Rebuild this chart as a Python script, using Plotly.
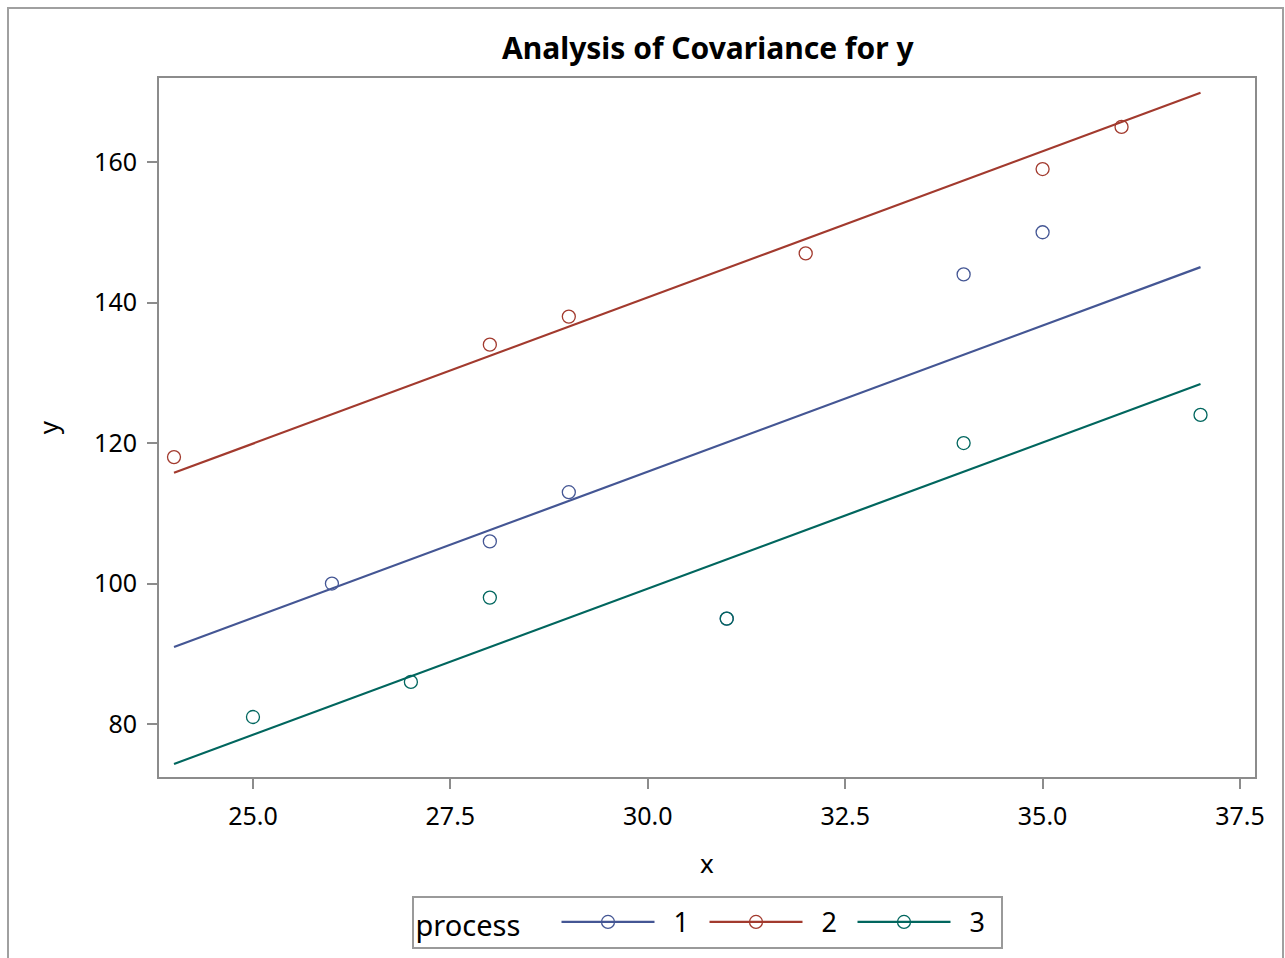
import plotly.graph_objects as go

# Observed data by process
x_p1 = [26, 28, 29, 31, 34, 35]
y_p1 = [100, 106, 113, 95, 144, 150]
x_p2 = [24, 28, 29, 32, 35, 36]
y_p2 = [118, 134, 138, 147, 159, 165]
x_p3 = [25, 27, 28, 31, 34, 37]
y_p3 = [81, 86, 98, 95, 120, 124]

# Fitted ANCOVA lines (common slope), evaluated at the ends of the x range
fit_x = [24, 37]
fit_p1 = [90.96, 145.04]
fit_p2 = [115.76, 169.85]
fit_p3 = [74.32, 128.40]

groups = ["1", "2", "3"]
colors = ["#445694", "#A23A2E", "#01665E"]

x_ticks = [25.0, 27.5, 30.0, 32.5, 35.0, 37.5]
y_ticks = [80, 100, 120, 140, 160]

FONT = "Noto Sans"
AXIS_COLOR = "#8c8c8c"

fig = go.Figure()

series = [(x_p1, y_p1, fit_p1), (x_p2, y_p2, fit_p2), (x_p3, y_p3, fit_p3)]
for name, color, (xs, ys, fit) in zip(groups, colors, series):
    # legend entry showing line with marker
    fig.add_trace(go.Scatter(
        x=[None], y=[None], mode="lines+markers", name="  " + name,
        line=dict(color=color, width=2.2),
        marker=dict(symbol="circle-open", size=13, color=color, line=dict(width=1.3)),
        legendgroup=name, showlegend=True,
    ))
    fig.add_trace(go.Scatter(
        x=fit_x, y=fit, mode="lines", name=name,
        line=dict(color=color, width=2.2),
        legendgroup=name, showlegend=False, hoverinfo="skip",
    ))
    fig.add_trace(go.Scatter(
        x=xs, y=ys, mode="markers", name=name,
        marker=dict(symbol="circle-open", size=13, color=color, line=dict(width=1.3)),
        legendgroup=name, showlegend=False,
    ))

axis_common = dict(
    showline=True, linecolor=AXIS_COLOR, linewidth=2, mirror=True,
    ticks="outside", ticklen=10, tickwidth=2, tickcolor=AXIS_COLOR,
    showgrid=False, zeroline=False,
    tickfont=dict(family=FONT, size=25, color="#000000"),
)

fig.update_xaxes(
    range=[23.81, 37.69], tickvals=x_ticks, tickformat=".1f", ticklabelstandoff=6,
    title=dict(text="x", font=dict(family=FONT, size=26, color="#000000"), standoff=24),
    **axis_common,
)
fig.update_yaxes(
    range=[72.46, 171.96], tickvals=y_ticks, ticklabelstandoff=5,
    title=dict(text="y", font=dict(family=FONT, size=26, color="#000000"), standoff=28),
    **axis_common,
)

fig.update_layout(
    width=1285, height=958,
    margin=dict(l=159, r=30, t=78, b=181, autoexpand=False),
    paper_bgcolor="white", plot_bgcolor="white",
    font=dict(family=FONT, color="#000000"),
    title=dict(text="<b>Analysis of Covariance for y</b>", x=0.5508, xanchor="center",
               y=1 - 48 / 958, yanchor="middle",
               font=dict(family=FONT, size=30, color="#000000")),
    legend=dict(
        orientation="h", x=0.5, xanchor="center", y=-0.208, yanchor="middle",
        bordercolor="#9a9a9a", borderwidth=2, bgcolor="white",
        font=dict(family=FONT, size=27, color="#000000"),
        title=dict(text="process    ", side="left", font=dict(family=FONT, size=29)),
        itemwidth=93, entrywidth=40, tracegroupgap=0,
    ),
    showlegend=True,
    shapes=[dict(
        type="rect", xref="paper", yref="paper",
        x0=(8 - 159) / 1096, x1=(1283 - 159) / 1096,
        y0=(777 - 975) / 699, y1=(777 - 8) / 699,
        line=dict(color="#a0a0a0", width=2), fillcolor="rgba(0,0,0,0)", layer="below",
    )],
)

fig.write_html("out.html")
